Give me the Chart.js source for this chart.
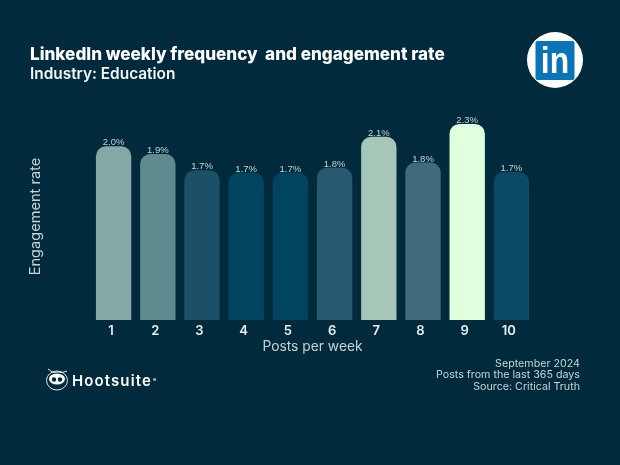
<!DOCTYPE html>
<html><head><meta charset="utf-8">
<script src="https://cdn.jsdelivr.net/npm/chart.js@4/dist/chart.umd.min.js"></script>
<style>
html,body{margin:0;padding:0;background:#012b3c;width:620px;height:465px;overflow:hidden}
#wrap{position:relative;width:620px;height:465px}
canvas{position:absolute;left:0;top:0}
.t{position:absolute;font-family:Inter,"Open Sans",sans-serif;white-space:nowrap}
#title{left:30px;top:44px;font-size:17.1px;line-height:20px;font-weight:800;color:#fff}
#sub{left:30px;top:64px;font-size:15.4px;line-height:19px;font-weight:600;color:#f2f6f6}
#foot{right:40px;top:358px;text-align:right;font-size:10.7px;line-height:11.3px;color:#c6d3d6}
#in{left:536.5px;top:36px;width:36px;text-align:center;font-family:"Liberation Sans",sans-serif;font-weight:700;font-size:37px;line-height:50px;color:#fff;transform:scaleX(.86)}
#hoot{left:72px;top:370px;font-size:15px;line-height:20px;font-weight:600;letter-spacing:1.1px;color:#fff}
#hoot sup{font-size:5px;vertical-align:4px;margin-left:1px}
</style></head><body>
<div id="wrap">
<canvas id="c" width="620" height="465"></canvas>
<div class="t" id="title">LinkedIn weekly frequency&nbsp; and engagement rate</div>
<div class="t" id="sub">Industry: Education</div>
<div class="t" id="in">in</div>
<div class="t" id="hoot">Hootsuite<sup>®</sup></div>
<div class="t" id="foot">September 2024<br>Posts from the last 365 days<br>Source: Critical Truth</div>
</div>
<script>
const categories=["1","2","3","4","5","6","7","8","9","10"];
const engagementRate=[2.02,1.93,1.74,1.715,1.715,1.77,2.13,1.83,2.28,1.72];
const barColors=["#84a8a5","#5f8a90","#1b5068","#004460","#004460","#275a70","#a6c6b8","#3f6b7a","#e0ffdc","#0a4a64"];
const yTitle="Engagement rate";
const xTitle="Posts per week";

const decor={id:"decor",beforeDraw(ch){
  const g=ch.ctx;g.save();
  // LinkedIn badge
  g.fillStyle="#fff";g.beginPath();g.arc(555,60,28,0,Math.PI*2);g.fill();
  g.fillStyle="#0a74b8";g.beginPath();g.roundRect(535.5,41,39,39,2);g.fill();
  // owl mark
  g.strokeStyle="#dfe8e8";g.lineWidth=1;
  g.beginPath();g.ellipse(57,380.5,10.5,9.5,0,0,Math.PI*2);g.stroke();
  g.beginPath();g.moveTo(48,369);g.lineTo(53,372.5);g.quadraticCurveTo(57,371.5,62,372.5);g.lineTo(67,371);g.stroke();
  g.fillStyle="#fff";g.beginPath();g.ellipse(57,379,8,5.5,0,0,Math.PI*2);g.fill();
  g.fillStyle="#012b3c";
  g.beginPath();g.arc(54,379.5,2.2,0,Math.PI*2);g.arc(60,379.5,2.2,0,Math.PI*2);g.fill();
  g.restore();
}};
const valueLabels={id:"valueLabels",afterDatasetsDraw(ch){
  const g=ch.ctx,m=ch.getDatasetMeta(0);
  g.save();g.font='9.5px "Liberation Sans",sans-serif';g.fillStyle="#c6d3d6";g.textAlign="center";g.textBaseline="alphabetic";
  m.data.forEach((b,i)=>g.fillText((Math.floor(engagementRate[i]*10+.5)/10).toFixed(1)+"%",b.x,b.y-1));
  g.restore();
}};
new Chart(document.getElementById("c"),{
  type:"bar",
  data:{labels:categories,datasets:[{data:engagementRate,backgroundColor:barColors,
    borderRadius:{topLeft:10,topRight:10,bottomLeft:0,bottomRight:0},borderSkipped:false,
    categoryPercentage:1,barPercentage:.8}]},
  options:{responsive:false,animation:false,devicePixelRatio:1,
    layout:{padding:{left:27,right:86.5,top:113,bottom:110}},
    plugins:{legend:{display:false},tooltip:{enabled:false},title:{display:false}},
    scales:{
      x:{grid:{display:false,drawTicks:false},border:{display:false},
        ticks:{color:"#e8eeee",padding:3,maxRotation:0,labelOffset:-2.5,font:{family:"Inter",size:13,weight:"600"}},
        title:{display:true,text:xTitle,color:"#c6d3d6",padding:{top:0,bottom:0},font:{family:"Inter",size:13.8}},
        afterFit(s){s.height=35}},
      y:{min:0,max:2.407,grid:{display:false},border:{display:false},ticks:{display:false},
        title:{display:true,text:yTitle,color:"#c6d3d6",padding:{top:0,bottom:0},font:{family:"Inter",size:14.6}},
        afterFit(s){s.width=64.5}}
    }
  },
  plugins:[decor,valueLabels]
});
</script>
</body></html>
